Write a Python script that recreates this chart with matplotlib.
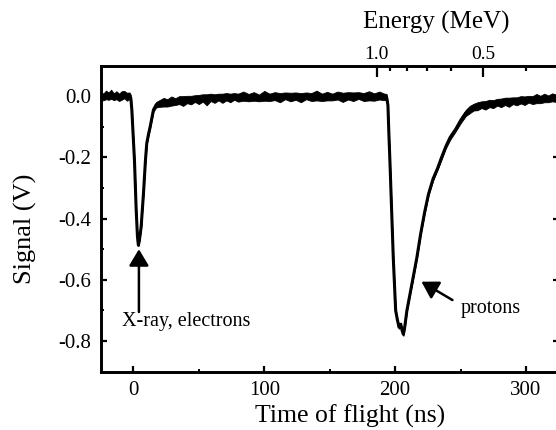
import matplotlib
matplotlib.use("Agg")
import matplotlib.pyplot as plt
import numpy as np

plt.rcParams['font.family'] = ['Liberation Serif', 'DejaVu Serif']

# ---- data ----
# time of flight (ns) and signal (V) of the trace centre line
time_ns = [-25, -23, -21, -19, -17, -15, -13, -11, -9, -7, -5, -3, -2,
           -1.2, -0.2, 0.8, 2.1, 3.1, 3.8, 4.6, 5.9, 7.7, 9.2, 10.2, 11.5,
           12.8, 15.3, 17.4,
           20, 23, 26, 29, 32, 35, 38, 41, 44, 47, 50, 53, 56, 59, 62, 65, 68,
           71, 74, 77, 80, 84, 88, 92, 96, 100, 104, 108, 112, 116, 120, 124,
           128, 132, 136, 140, 144, 148, 152, 156, 160, 164, 168, 172, 176,
           180, 184, 188, 191, 193.5,
           194.5, 195.2, 196.0, 197.3, 198.6, 200.4, 201.7, 203.0, 204.3,
           205.3, 206.3, 207.3, 209.0, 211.0, 213.5, 216.5, 219.5, 222.5,
           225.5, 229.0, 232.5, 235.5, 238.7, 242.0, 246.3, 250.0,
           254, 257, 260, 263, 266, 269, 272, 275, 278, 281, 284, 287, 290,
           293, 296, 299, 302, 305, 308, 311, 314, 317, 320, 323, 325]
signal_v = [0.002, -0.003, 0.004, 0.000, 0.006, -0.002, 0.003, -0.004, 0.002, 0.005, -0.002, 0.001, -0.006,
            -0.045, -0.130, -0.210, -0.370, -0.460, -0.487, -0.470, -0.427, -0.317, -0.209, -0.154, -0.125,
            -0.100, -0.045, -0.028,
            -0.024, -0.020, -0.022, -0.016, -0.018, -0.013, -0.016, -0.011, -0.013, -0.008, -0.011, -0.006,
            -0.012, -0.004, -0.008, -0.003, -0.007,
            -0.002, -0.006, -0.001, -0.005, 0.000, -0.005, -0.001, -0.006, 0.001, -0.004, 0.000, -0.005,
            0.001, -0.003, 0.000,
            -0.005, 0.001, -0.003, 0.002, -0.004, 0.000, -0.003, 0.002, -0.004, 0.001, -0.002, 0.002, -0.003,
            0.001, -0.003, 0.002, -0.002, -0.003,
            -0.030, -0.120, -0.210, -0.370, -0.530, -0.700, -0.730, -0.755, -0.745,
            -0.765, -0.778, -0.755, -0.700, -0.655, -0.600, -0.530, -0.450, -0.380,
            -0.320, -0.270, -0.235, -0.200, -0.165, -0.135, -0.108, -0.080,
            -0.055, -0.044, -0.036, -0.033, -0.028, -0.030, -0.024, -0.026, -0.020, -0.022, -0.017, -0.020,
            -0.015, -0.017, -0.012, -0.015, -0.010, -0.013, -0.008, -0.011, -0.006, -0.009, -0.004, -0.007,
            -0.005]
# half-width of the noise band around the centre line (V)
noise_v = [0.013, 0.011, 0.014, 0.012, 0.015, 0.011, 0.013, 0.012, 0.014, 0.012, 0.013, 0.011, 0.010,
           0.004, 0.003, 0.003, 0.003, 0.003, 0.003, 0.003, 0.003, 0.003, 0.003, 0.004, 0.005,
           0.005, 0.006, 0.009,
           0.011, 0.014, 0.012, 0.015, 0.011, 0.013, 0.016, 0.012, 0.014, 0.011, 0.015, 0.012,
           0.018, 0.012, 0.014,
           0.011, 0.015, 0.012, 0.014, 0.011, 0.013, 0.015, 0.012, 0.014, 0.011, 0.016, 0.012,
           0.013, 0.015, 0.011,
           0.014, 0.012, 0.015, 0.011, 0.013, 0.016, 0.012, 0.014, 0.011, 0.013, 0.015, 0.012,
           0.014, 0.011, 0.013, 0.015, 0.012, 0.013, 0.011, 0.010,
           0.003, 0.003, 0.003, 0.003, 0.003, 0.003, 0.004, 0.005, 0.005,
           0.005, 0.005, 0.004, 0.003, 0.003, 0.003, 0.004, 0.003, 0.005,
           0.004, 0.006, 0.005, 0.007, 0.006, 0.008, 0.007, 0.009,
           0.010, 0.012, 0.011, 0.013, 0.011, 0.014, 0.012, 0.013, 0.011, 0.014, 0.012, 0.015,
           0.011, 0.013, 0.012, 0.014, 0.011, 0.013, 0.015, 0.012, 0.014, 0.011, 0.013, 0.012,
           0.012]

# energy axis (MeV) on top
energy_major = [1.0, 0.5]
energy_labels = ['1.0', '0.5']
energy_minor = [0.9, 0.8, 0.7, 0.6, 0.4]
# time-of-flight calibration t = A / sqrt(E) + B
TOF_A = 196.8
TOF_B = -11.0

x_ticks = [0, 100, 200, 300]
x_minor = [50, 150, 250]
y_ticks = [0.0, -0.2, -0.4, -0.6, -0.8]
y_tick_labels = ['0.0', '-0.2', '-0.4', '-0.6', '-0.8']
y_minor = [-0.1, -0.3, -0.5, -0.7]


def energy_to_tof(e):
    return TOF_A / np.sqrt(np.asarray(e, dtype=float)) + TOF_B


fig = plt.figure(figsize=(5.56, 4.30), dpi=100)
ax = fig.add_axes([100.7 / 556, (430 - 371.7) / 430, (558.7 - 100.7) / 556, (371.7 - 65.5) / 430])

t = np.array(time_ns)
s = np.array(signal_v)
n = np.array(noise_v)
ax.fill_between(t, s - n, s + n, color='black', lw=0.6, edgecolor='black')
ax.plot(t, s, color='black', lw=2.2, solid_joinstyle='round')

ax.set_xlim(-25, 325)
ax.set_ylim(-0.9, 0.1)
ax.set_xticks(x_ticks)
ax.set_xticks(x_minor, minor=True)
ax.set_yticks(y_ticks)
ax.set_yticklabels(y_tick_labels)
ax.set_yticks(y_minor, minor=True)

for sp in ax.spines.values():
    sp.set_linewidth(1.9)

ax.tick_params(axis='both', which='major', direction='in', length=4.5, width=1.6,
               labelsize=15, colors='black')
ax.tick_params(axis='both', which='minor', direction='in', length=2.5, width=1.4)
ax.tick_params(axis='x', which='both', top=False, bottom=True, pad=6.5)
ax.tick_params(axis='y', which='both', left=True, right=True, pad=7)

# top energy axis
ax2 = ax.twiny()
ax2.set_xlim(ax.get_xlim())
ax2.set_xticks(energy_to_tof(energy_major))
ax2.set_xticklabels(energy_labels)
ax2.set_xticks(energy_to_tof(energy_minor), minor=True)
ax2.tick_params(axis='x', which='major', direction='in', length=8, width=1.6, labelsize=14, pad=1.5)
ax2.tick_params(axis='x', which='minor', direction='in', length=3.5, width=1.6)
for sp in ax2.spines.values():
    sp.set_linewidth(1.9)

# axis titles
fig.text(25 / 556, 1 - 229 / 430, 'Signal (V)', rotation=90, ha='center', va='center', fontsize=19)
fig.text(350 / 556, 1 - 416 / 430, 'Time of flight (ns)', ha='center', va='center', fontsize=18.5)
fig.text(436 / 556, 1 - 22 / 430, 'Energy (MeV)', ha='center', va='center', fontsize=18)

# annotations
arrow_style = dict(arrowstyle='-|>,head_length=0.5,head_width=0.3', mutation_scale=20,
                   lw=1.8, color='black', shrinkA=0, shrinkB=0)
ax.annotate('', xy=(4.2, -0.50), xytext=(4.2, -0.705), arrowprops=arrow_style)
ax.text(-8.4, -0.737, 'X-ray, electrons', ha='left', va='center', fontsize=14.5)
ax.annotate('', xy=(220.1, -0.606), xytext=(243.8, -0.666), arrowprops=arrow_style)
ax.text(250.2, -0.693, 'protons', ha='left', va='center', fontsize=14.5)

fig.savefig('out.png', dpi=100)
